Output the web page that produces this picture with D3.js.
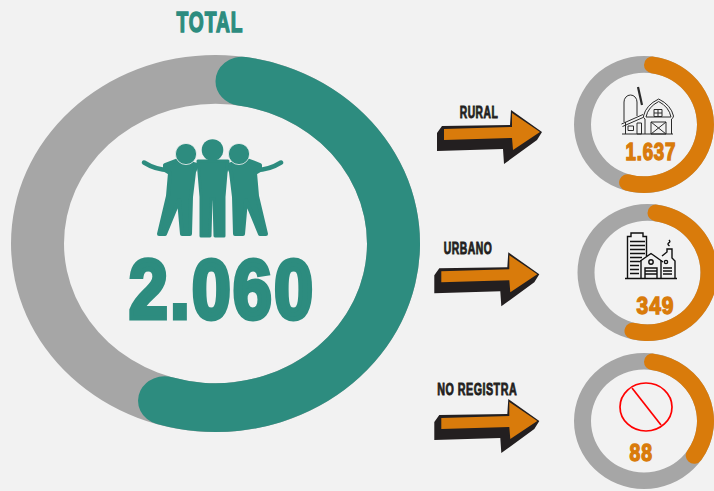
<!DOCTYPE html>
<html>
<head>
<meta charset="utf-8">
<script src="https://cdn.jsdelivr.net/npm/d3@7"></script>
<style>
html, body { margin: 0; padding: 0; background: #f2f2f2; overflow: hidden; }
text { font-family: "Liberation Sans Narrow", "Liberation Sans", sans-serif; font-weight: 700; opacity: 0.999; }
</style>
</head>
<body>
<svg></svg>
<script>
const width = 714, height = 491;

// values
const categories = ["RURAL", "URBANO", "NO REGISTRA"];
const categoryValues = ["1.637", "349", "88"];
const categoryShares = [0.565, 0.56, 0.37];
const totalLabel = "TOTAL";
const totalValue = "2.060";
const totalShare = 0.57;

const teal = "#2d8c7f", orange = "#d97b0b", grey = "#a6a6a6", ink = "#231f20", bg = "#f2f2f2";

const svg = d3.select("svg").attr("width", width).attr("height", height);
svg.append("rect").attr("width", width).attr("height", height).attr("fill", bg);

const angle = d3.scaleLinear().domain([0, 1]).range([0, 2 * Math.PI]);

// ring is an ellipse in the original, so draw circular and squash it
function ring(cx, cy, rx, ry, thick, share, color) {
    const g = svg.append("g")
        .attr("transform", "translate(" + cx + "," + cy + ") scale(1," + (ry / rx) + ")");
    const arc = d3.arc().innerRadius(rx - thick).outerRadius(rx);
    g.append("path")
        .attr("fill", grey)
        .attr("d", arc({startAngle: 0, endAngle: 2 * Math.PI}));
    g.append("path")
        .attr("fill", color)
        .attr("d", arc.cornerRadius(thick / 2)({startAngle: angle(0), endAngle: angle(share)}));
}

// no Anton here, so fatten a narrow bold with a stroke and scale it into its box
function label(str, x0, x1, baseline, size, color, weight, spacing) {
    const t = svg.append("text")
        .attr("font-size", size)
        .attr("letter-spacing", spacing)
        .attr("fill", color)
        .attr("stroke", color)
        .attr("stroke-width", weight)
        .attr("stroke-linejoin", "miter")
        .text(str);
    const w = t.node().getComputedTextLength() - spacing + weight;
    const sx = (x1 - x0) / w;
    t.attr("transform", "translate(" + (x0 + weight * sx / 2) + "," + baseline + ") scale(" + sx + ",1)");
}

// the total
ring(215.5, 243.5, 204.5, 188.5, 53, totalShare, teal);
label(totalLabel, 176, 243, 32, 30, teal, 1.6, 1.5);
label(totalValue, 127, 315, 317.5, 84, teal, 5, 3);

// the three people
const people = svg.append("g").attr("fill", teal).attr("stroke", "none");

function sidePerson(g) {
    g.append("path")
        .attr("d", "M144,162.5 Q156,170 169,170")
        .attr("fill", "none").attr("stroke", teal)
        .attr("stroke-width", 4.5).attr("stroke-linecap", "round");
    g.append("path")
        .attr("stroke", teal).attr("stroke-width", 4).attr("stroke-linejoin", "round")
        .attr("d", "M165,165 L178,160 L197,165 L194,172 L191,197 L190,234 L182,234 L179,200 L165,234 L159,234 L168,196 L170,173 L165,170 Z");
    g.append("circle").attr("cx", 186).attr("cy", 154).attr("r", 10.6)
        .attr("stroke", bg).attr("stroke-width", 0.8);
}
sidePerson(people.append("g"));
sidePerson(people.append("g").attr("transform", "translate(425,0) scale(-1,1)"));

people.append("path")
    .attr("stroke", teal).attr("stroke-width", 3).attr("stroke-linejoin", "round")
    .attr("d", "M198,161 L228,161 L226,173 L224,197 L224,236 L215,236 L214,199 L211,199 L210,236 L201,236 L201,197 L199,173 Z");
people.append("circle").attr("cx", 212.5).attr("cy", 150).attr("r", 10.8);

// arrows, same shape three times
const arrowShadow = [[7, 83], [12, 76], [80, 75], [81, 60], [112, 82], [107, 90], [74, 114], [73, 99], [7, 101]];
const arrowFill = [[14, 79], [82, 77], [82, 63], [110, 82], [83, 100], [82, 88], [14, 90]];
const arrowAt = [[430, 50], [427.3, 192.3], [427.3, 339]];
const arrowLine = d3.line().curve(d3.curveLinearClosed);

arrowAt.forEach(p => {
    const g = svg.append("g").attr("transform", "translate(" + p[0] + "," + p[1] + ")");
    g.append("path").attr("d", arrowLine(arrowShadow)).attr("fill", ink);
    g.append("path").attr("d", arrowLine(arrowFill)).attr("fill", orange);
});

// small rings and their text
ring(644, 124.5, 70, 68.5, 17, categoryShares[0], orange);
ring(647.5, 272.5, 70, 68.5, 17, categoryShares[1], orange);
ring(644, 421, 70, 68, 17, categoryShares[2], orange);

label(categories[0], 459.5, 498, 117.5, 17, ink, 0.9, 0.8);
label(categories[1], 443.5, 492, 253.5, 17, ink, 0.9, 0.8);
label(categories[2], 437, 517, 394.5, 17, ink, 0.9, 0.8);

label(categoryValues[0], 625, 676, 160.3, 24, orange, 1.4, 1);
label(categoryValues[1], 636, 674, 314.3, 24, orange, 1.4, 1);
label(categoryValues[2], 629, 652.5, 461.3, 24, orange, 1.4, 1);

// barn icon
const barn = svg.append("g").attr("fill", "none").attr("stroke", "#2b2b2b").attr("stroke-width", 1);
["M624,122 V102 A6.5,7 0 0 1 637,102 V116",
 "M622,134 H673",
 "M625.5,122 V134",
 "M621.5,124 L643,114.5 M622.5,126.5 L643,117.5",
 "M645,134 V119 Q643,118 643.5,116 Q646,105 658.7,99 Q671,105 673.5,116 Q673.5,118 671.5,119 V134",
 "M646,117 Q648,107 658.7,101.5 Q669,107 671,117 H646",
 "M654,109.5 H662 V116.5 H654 Z M658,109.5 V116.5 M654,113 H662",
 "M651,122 H666 V134 H651 Z M651,122 L666,134 M666,122 L651,134",
 "M628,126 H633.5 V130.5 H628 Z",
 "M637,123 H641.5 V134 H637 Z"
].forEach(d => barn.append("path").attr("d", d));
svg.append("path")
    .attr("d", "M638,87 L642,105")
    .attr("stroke", "#2b2b2b").attr("stroke-width", 2.2);

// city icon
const city = svg.append("g").attr("fill", "none").attr("stroke", "#111").attr("stroke-width", 1.4);
["M625,278.5 H677",
 "M627.5,278.5 V236.5 L631,236.5 V233 H643 V236.5 H646.5 V256",
 "M630,241.5 H645 M630,245.5 H645 M630,249.5 H645 M630,253.5 H645 M630,257.5 H642 M630,261.5 H639 M630,265.5 H639 M630,269.5 H639 M630,273.5 H639",
 "M639,262 L651,253.5 L663,262",
 "M641,260.5 V278.5 M661,260.5 V278.5",
 "M645,278.5 V268 H657 V278.5 M645,271 H657 M645,274 H657",
 "M662,256 L667,252 L667,249 H672 V258 L675,261 V278.5",
 "M663,268 H672 M663,271 H672 M663,274 H672",
 "M669,240 Q671,242 668.5,243 Q667,244 669.5,246"
].forEach(d => city.append("path").attr("d", d));
city.append("circle").attr("cx", 651).attr("cy", 262).attr("r", 2.2);
city.append("circle").attr("cx", 666).attr("cy", 262).attr("r", 1.6);

// no sign
const noSign = svg.append("g").attr("fill", "none").attr("stroke", "#ff0000").attr("stroke-width", 1.7);
noSign.append("ellipse").attr("cx", 646).attr("cy", 407).attr("rx", 26).attr("ry", 24);
noSign.append("path").attr("d", "M632,388 L661,425");
</script>
</body>
</html>
